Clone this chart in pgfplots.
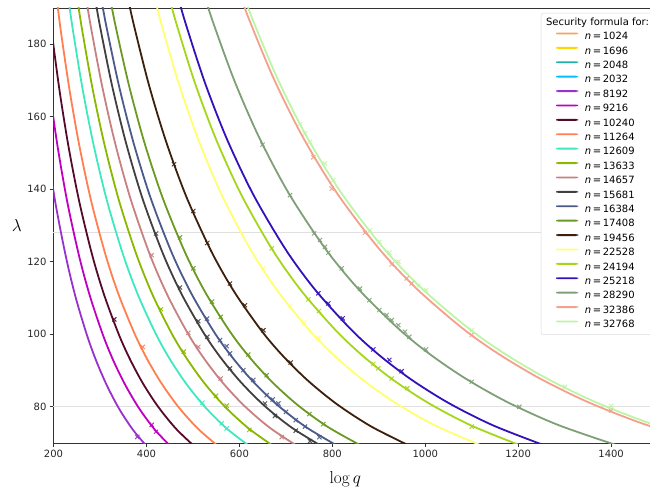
\documentclass[border=0pt]{standalone}
\usepackage[no-math]{fontspec}
\setmainfont{DejaVu Sans}
\usepackage{pgfplots}
\pgfplotsset{compat=1.18}
\usetikzlibrary{calc}

\definecolor{c1024}{HTML}{F4A460}
\definecolor{c1696}{HTML}{FFD700}
\definecolor{c2048}{HTML}{20B2AA}
\definecolor{c2032}{HTML}{00BFFF}
\definecolor{c8192}{HTML}{9932CC}
\definecolor{c9216}{HTML}{C000C0}
\definecolor{c10240}{HTML}{560A2A}
\definecolor{c11264}{HTML}{FF7F50}
\definecolor{c12609}{HTML}{40E8C0}
\definecolor{c13633}{HTML}{8AB800}
\definecolor{c14657}{HTML}{C88080}
\definecolor{c15681}{HTML}{404040}
\definecolor{c16384}{HTML}{4A5A8A}
\definecolor{c17408}{HTML}{6B9A22}
\definecolor{c19456}{HTML}{3D200B}
\definecolor{c22528}{HTML}{FFFF70}
\definecolor{c24194}{HTML}{A5D61A}
\definecolor{c25218}{HTML}{3311BB}
\definecolor{c28290}{HTML}{7FA077}
\definecolor{c32386}{HTML}{F5A08C}
\definecolor{c32768}{HTML}{BDF5A5}

\newcommand{\nn}[1]{\textit{n}\,=\,#1}

\pgfplotsset{
  curve/.style={#1, smooth, line width=1.8pt},
  pts/.style={#1, only marks, mark=x, mark size=3pt, line width=1pt, opacity=0.9, forget plot},
}

\begin{document}
\begin{tikzpicture}
\begin{axis}[
  scale only axis, width=604.1pt, height=435pt,
  xmin=200, xmax=1500, ymin=70, ymax=190,
  xtick={200,400,...,1400}, ytick={80,100,...,180},
  tick pos=left, tick align=outside, major tick length=3.5pt,
  tick style={black!80, line width=0.8pt},
  axis line style={black!80, line width=0.8pt},
  ticklabel style={font=\fontsize{10}{12}\selectfont, text=black!85},
  /pgf/number format/assume math mode=true,
  /pgf/number format/set thousands separator={},
  extra y ticks={80,128}, extra y tick labels={},
  extra y tick style={grid=major, major tick length=0pt,
    major grid style={black!12, line width=1.2pt}},
  xlabel={$\log q$}, ylabel={$\lambda$},
  every axis x label/.style={at={(rel axis cs:0.483,0)}, anchor=north,
    yshift=-28.7pt, inner sep=0pt, font=\fontsize{18.5}{22}\selectfont},
  every axis y label/.style={at={(rel axis cs:0,0.5)}, anchor=center,
    xshift=-36.8pt, inner sep=0pt, font=\fontsize{18.5}{22}\selectfont},
  legend cell align=left,
  legend image code/.code={\path (0pt,0pt); \path[#1, draw=none, fill] (11pt,2.7pt) rectangle (33pt,4.6pt);},
  legend style={at={(rel axis cs:1,1)}, anchor=north east, xshift=-5.4pt, yshift=-5pt,
    draw=black!15, rounded corners=2pt, fill=white,
    font=\fontsize{10}{12}\selectfont, row sep=4.4pt, inner xsep=3pt, inner ysep=4.5pt,
    nodes={inner sep=0pt, text height=7.6pt, text depth=2.4pt},
    /tikz/every odd column/.append style={column sep=6.7pt}},
]
\addlegendimage{empty legend}
\addlegendentry{\hspace*{-38.7pt}Security formula for:}
\addlegendimage{c1024}\addlegendentry{\nn{1024}}
\addlegendimage{c1696}\addlegendentry{\nn{1696}}
\addlegendimage{c2048}\addlegendentry{\nn{2048}}
\addlegendimage{c2032}\addlegendentry{\nn{2032}}

% n = 8192
\addplot[curve=c8192] coordinates {(186.2,150.91)(204.8,135.73)(227.6,120.84)(248.2,109.93)(273.1,99.32)(292.6,92.46)(315.1,85.82)(341.3,79.43)(372.4,73.40)(409.6,67.80)};
\addlegendentry{\nn{8192}}
\addplot[pts=c8192] coordinates {(380.3,71.7)};

% n = 9216
\addplot[curve=c9216] coordinates {(192.0,166.66)(209.5,151.23)(230.4,136.01)(256.0,121.09)(279.3,110.16)(307.2,99.53)(329.1,92.65)(354.5,86.00)(384.0,79.60)(418.9,73.55)(460.8,67.94)};
\addlegendentry{\nn{9216}}
\addplot[pts=c9216] coordinates {(411.3,75.0)(420.6,73.1)};

% n = 10240
\addplot[curve=c10240] coordinates {(196.9,182.61)(213.3,166.96)(232.7,151.50)(256.0,136.26)(284.4,121.31)(310.3,110.36)(341.3,99.71)(365.7,92.82)(393.8,86.15)(426.7,79.74)(465.5,73.68)(512.0,68.07)};
\addlegendentry{\nn{10240}}
\addplot[pts=c10240] coordinates {(330.8,104.1)};

% n = 11264
\addplot[curve=c11264] coordinates {(201.1,198.70)(208.6,190.78)(216.6,182.91)(234.7,167.24)(256.0,151.75)(281.6,136.49)(312.9,121.51)(341.3,110.55)(375.5,99.87)(402.3,92.97)(433.2,86.30)(469.3,79.87)(512.0,73.81)(563.2,68.18)};
\addlegendentry{\nn{11264}}
\addplot[pts=c11264] coordinates {(392.0,96.5)};

% n = 12609
\addplot[curve=c12609] coordinates {(225.2,199.09)(233.5,191.16)(242.5,183.27)(262.7,167.57)(286.6,152.05)(315.2,136.75)(350.3,121.75)(382.1,110.76)(420.3,100.07)(450.3,93.15)(485.0,86.46)(525.4,80.03)(573.1,73.95)(630.5,68.31)};
\addlegendentry{\nn{12609}}
\addplot[pts=c12609] coordinates {(520.2,81.1)(562.0,75.4)(572.7,74.0)};

% n = 13633
\addplot[curve=c13633] coordinates {(243.4,199.35)(252.5,191.41)(262.2,183.51)(284.0,167.79)(309.8,152.26)(340.8,136.94)(378.7,121.91)(413.1,110.91)(454.4,100.20)(486.9,93.28)(524.3,86.58)(568.0,80.14)(619.7,74.05)(681.7,68.40)};
\addlegendentry{\nn{13633}}
\addplot[pts=c13633] coordinates {(431.3,106.9)(480.2,95.2)(549.7,83.0)(572.7,80.3)(621.4,73.6)};

% n = 14657
\addplot[curve=c14657] coordinates {(261.7,199.60)(271.4,191.65)(281.9,183.74)(305.4,168.00)(333.1,152.45)(366.4,137.11)(407.1,122.07)(444.2,111.05)(488.6,100.33)(523.5,93.39)(563.7,86.69)(610.7,80.24)(666.2,74.14)(732.9,68.49)};
\addlegendentry{\nn{14657}}
\addplot[pts=c14657] coordinates {(411.3,121.8)(490.1,100.4)(511.6,96.5)(559.8,87.8)(691.1,71.6)};

% n = 15681
\addplot[curve=c15681] coordinates {(280.0,199.83)(290.4,191.88)(301.6,183.96)(326.7,168.20)(356.4,152.62)(392.0,137.27)(435.6,122.21)(475.2,111.18)(522.7,100.45)(560.0,93.50)(603.1,86.79)(653.4,80.33)(712.8,74.23)(784.1,68.57)};
\addlegendentry{\nn{15681}}
\addplot[pts=c15681] coordinates {(420.6,127.8)(472.2,112.9)(511.6,103.6)(531.0,99.3)(579.8,90.6)(655.1,80.9)(676.7,77.5)(721.2,73.4)(752.0,70.5)};

% n = 16384
\addplot[curve=c16384] coordinates {(292.6,199.99)(303.4,192.02)(315.1,184.10)(341.3,168.32)(372.4,152.74)(409.6,137.37)(455.1,122.30)(496.5,111.26)(546.1,100.52)(585.1,93.57)(630.2,86.85)(682.7,80.39)(744.7,74.28)(819.2,68.62)};
\addlegendentry{\nn{16384}}
\addplot[pts=c16384] coordinates {(530.3,104.3)(558.3,98.4)(572.7,96.7)(579.8,94.7)(608.5,90.1)(630.0,87.4)(658.8,83.2)(671.7,82.0)(683.8,80.9)(700.3,78.6)(721.2,76.3)(741.2,74.5)(772.0,71.6)};

% n = 17408
\addplot[curve=c17408] coordinates {(310.9,200.19)(322.4,192.22)(334.8,184.29)(362.7,168.50)(395.6,152.90)(435.2,137.52)(483.6,122.43)(527.5,111.38)(580.3,100.63)(621.7,93.67)(669.5,86.94)(725.3,80.48)(791.3,74.36)(870.4,68.69)};
\addlegendentry{\nn{17408}}
\addplot[pts=c17408] coordinates {(472.2,126.7)(500.9,118.2)(541.1,109.0)(559.8,104.8)(619.2,94.4)(658.8,88.7)(750.5,78.0)(780.6,75.2)};

% n = 19456
\addplot[curve=c19456] coordinates {(347.4,200.58)(360.3,192.59)(374.2,184.64)(405.3,168.82)(442.2,153.19)(486.4,137.78)(540.4,122.66)(589.6,111.59)(648.5,100.82)(694.9,93.85)(748.3,87.11)(810.7,80.63)(884.4,74.50)(972.8,68.82)};
\addlegendentry{\nn{19456}}
\addplot[pts=c19456] coordinates {(459.3,146.9)(500.8,134.0)(531.0,125.2)(579.8,114.0)(612.1,108.0)(651.5,101.1)(710.4,92.2)};

% n = 22528
\addplot[curve=c22528] coordinates {(402.3,201.08)(417.2,193.07)(433.2,185.10)(469.3,169.25)(512.0,153.58)(563.2,138.12)(625.8,122.97)(682.7,111.87)(750.9,101.07)(804.6,94.09)(866.5,87.33)(938.7,80.83)(1024.0,74.69)(1126.4,69.00)};
\addlegendentry{\nn{22528}}
\addplot[pts=c22528] coordinates {(651.5,118.2)(709.0,107.8)(739.1,103.2)(769.9,98.9)};

% n = 24194
\addplot[curve=c24194] coordinates {(432.0,201.33)(448.0,193.31)(465.3,185.33)(504.0,169.45)(549.9,153.76)(604.9,138.29)(672.1,123.12)(733.2,112.01)(806.5,101.20)(864.1,94.20)(930.5,87.44)(1008.1,80.93)(1099.7,74.78)(1209.7,69.08)};
\addlegendentry{\nn{24194}}
\addplot[pts=c24194] coordinates {(669.6,123.7)(748.3,109.6)(771.3,106.4)(888.2,91.8)(899.0,90.6)(927.8,87.8)(961.4,85.1)(1100.0,74.5)};

% n = 25218
\addplot[curve=c25218] coordinates {(450.3,201.47)(467.0,193.45)(485.0,185.46)(525.4,169.57)(573.1,153.87)(630.5,138.39)(700.5,123.21)(764.2,112.09)(840.6,101.27)(900.6,94.27)(969.9,87.50)(1050.8,80.99)(1146.3,74.84)(1260.9,69.13)};
\addlegendentry{\nn{25218}}
\addplot[pts=c25218] coordinates {(769.9,111.3)(791.4,108.5)(822.4,104.4)(888.2,95.8)(922.6,92.9)(949.3,89.8)};

% n = 28290
\addplot[curve=c28290] coordinates {(505.2,201.86)(523.9,193.82)(544.0,185.82)(589.4,169.90)(643.0,154.17)(707.3,138.66)(785.8,123.45)(857.3,112.31)(943.0,101.47)(1010.4,94.45)(1088.1,87.67)(1178.8,81.15)(1285.9,74.98)(1414.5,69.27)};
\addlegendentry{\nn{28290}}
\addplot[pts=c28290] coordinates {(650.0,152.3)(709.0,138.4)(760.6,127.8)(773.5,126.0)(784.3,124.1)(791.4,122.5)(820.2,118.2)(859.6,112.6)(879.6,109.4)(901.1,106.7)(917.0,105.3)(927.8,103.9)(942.0,102.5)(956.4,100.7)(965.7,99.3)(1001.6,95.8)(1100.0,86.9)(1202.4,80.0)};

% n = 32386
\addplot[curve=c32386] coordinates {(578.3,202.33)(599.7,194.27)(622.8,186.25)(674.7,170.30)(736.0,154.53)(809.7,138.98)(899.6,123.74)(981.4,112.57)(1079.5,101.70)(1156.6,94.67)(1245.6,87.87)(1349.4,81.33)(1472.1,75.16)(1619.3,69.43)};
\addlegendentry{\nn{32386}}
\addplot[pts=c32386] coordinates {(759.1,148.8)(798.7,140.2)(870.3,128.0)(927.8,119.3)(960.1,115.4)(970.8,114.0)(1100.0,99.8)(1399.7,78.9)};

% n = 32768
\addplot[curve=c32768] coordinates {(585.1,202.37)(606.8,194.31)(630.2,186.29)(682.7,170.33)(744.7,154.56)(819.2,139.01)(910.2,123.76)(993.0,112.59)(1092.3,101.72)(1170.3,94.69)(1260.3,87.89)(1365.3,81.35)(1489.5,75.17)(1638.4,69.44)};
\addlegendentry{\nn{32768}}
\addplot[pts=c32768] coordinates {(730.5,158.0)(741.2,155.4)(752.0,153.1)(784.3,147.1)(802.1,142.5)(881.1,128.7)(901.1,125.5)(922.6,122.5)(942.0,120.0)(985.1,113.4)(1001.6,112.2)(1100.0,101.1)(1300.8,85.5)(1400.0,80.2)};
\end{axis}
\pgfresetboundingbox
\path[use as bounding box] ($(current axis.south west)+(-53.5pt,-50pt)$) rectangle ($(current axis.south west)+(596.5pt,443pt)$);
\end{tikzpicture}
\end{document}
